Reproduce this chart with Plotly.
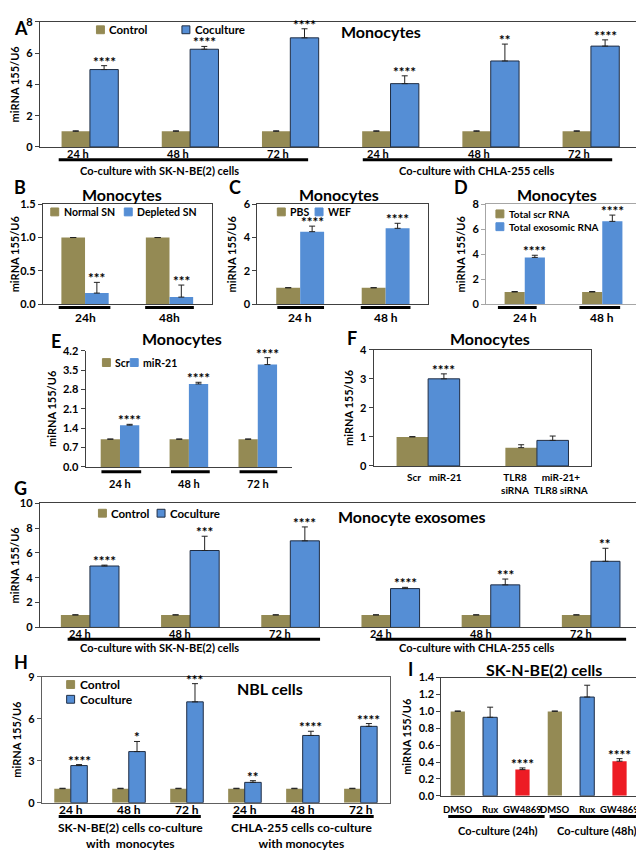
import plotly.graph_objects as go

W, H = 644, 852
OFF = 8                      # the page body adds an 8 px margin
FW, FH = W - OFF, H - OFF
OLIVE = '#948A54'
BLUE = '#558ED5'
RED = '#ED1C24'
EDGE = '#1F2D44'
NONE = 'rgba(0,0,0,0)'
FONT = 'Lato'

# A - monocytes co-cultured with NBL cells
a_x = ['SK 24 h', 'SK 48 h', 'SK 72 h', 'CHLA 24 h', 'CHLA 48 h', 'CHLA 72 h']
a_labels = ['24 h', '48 h', '72 h', '24 h', '48 h', '72 h']
a_groups = ['Co-culture with SK-N-BE(2) cells', 'Co-culture with CHLA-255 cells']
a_control = [1.0, 1.0, 1.0, 1.0, 1.0, 1.0]
a_control_err = [0.03, 0.03, 0.03, 0.03, 0.03, 0.03]
a_coculture = [4.95, 6.25, 6.98, 4.05, 5.5, 6.45]
a_coculture_err = [0.25, 0.18, 0.58, 0.5, 1.08, 0.4]
a_stars = ['****', '****', '****', '****', '**', '****']

# B - normal vs exosome depleted supernatant
b_x = ['24h', '48h']
b_normal = [1.0, 1.0]
b_normal_err = [0.0, 0.0]
b_depleted = [0.17, 0.11]
b_depleted_err = [0.16, 0.18]
b_stars = ['***', '***']

# C - PBS vs WEF
c_x = ['24 h', '48 h']
c_pbs = [1.0, 1.0]
c_pbs_err = [0.0, 0.0]
c_wef = [4.35, 4.55]
c_wef_err = [0.33, 0.3]
c_stars = ['****', '****']

# D - total scr RNA vs total exosomic RNA
d_x = ['24 h', '48 h']
d_scr = [1.0, 1.0]
d_scr_err = [0.03, 0.03]
d_exo = [3.75, 6.62]
d_exo_err = [0.17, 0.5]
d_stars = ['****', '****']

# E - Scr vs miR-21
e_x = ['24 h', '48 h', '72 h']
e_scr = [1.0, 1.0, 1.0]
e_scr_err = [0.01, 0.01, 0.01]
e_mir = [1.51, 3.0, 3.7]
e_mir_err = [0.03, 0.06, 0.25]
e_stars = ['****', '****', '****']

# F - TLR8 siRNA
f_x = ['Scr', 'TLR8 siRNA']
f_first_labels = ['Scr', 'TLR8<br>siRNA']
f_second_labels = ['miR-21', 'miR-21+<br>TLR8 siRNA']
f_first = [1.0, 0.63]
f_first_err = [0.01, 0.1]
f_second = [3.0, 0.88]
f_second_err = [0.17, 0.15]
f_stars = ['****', '']

# G - monocyte exosomes
g_control = [1.0, 1.0, 1.0, 1.0, 1.0, 1.0]
g_control_err = [0.02, 0.02, 0.02, 0.02, 0.02, 0.02]
g_coculture = [4.95, 6.2, 6.98, 3.13, 3.43, 5.33]
g_coculture_err = [0.07, 1.15, 1.12, 0.1, 0.47, 1.05]
g_stars = ['****', '***', '****', '****', '***', '**']

# H - NBL cells
h_groups = ['SK-N-BE(2) cells co-culture<br>with  monocytes', 'CHLA-255 cells co-culture<br>with monocytes']
h_control = [1.0, 1.0, 1.0, 1.0, 1.0, 1.0]
h_control_err = [0.03, 0.03, 0.03, 0.03, 0.03, 0.03]
h_coculture = [2.65, 3.65, 7.2, 1.45, 4.8, 5.45]
h_coculture_err = [0.07, 0.72, 1.3, 0.12, 0.3, 0.2]
h_stars = ['****', '*', '***', '**', '****', '****']

# I - SK-N-BE(2) cells with inhibitors
i_x = ['DMSO 24h', 'Rux 24h', 'GW4869 24h', 'DMSO 48h', 'Rux 48h', 'GW4869 48h']
i_labels = ['DMSO', 'Rux', 'GW4869', 'DMSO', 'Rux', 'GW4869']
i_groups = ['Co-culture (24h)', 'Co-culture (48h)']
i_values = [1.0, 0.93, 0.31, 1.0, 1.17, 0.41]
i_err = [0.005, 0.12, 0.02, 0.005, 0.14, 0.03]
i_stars = ['', '', '****', '', '', '****']

fig = go.Figure()
axes, shapes, notes = {}, [], []


def px(x):
    return (x - OFF) / FW


def py(y):
    return 1 - (y - OFF) / FH


def ref(n):
    return ('x', 'y') if n == 1 else (f'x{n}', f'y{n}')


def bold(size):
    return dict(family=FONT, size=size, color='black', weight='bold')


def text(x, y, s, size=11, xanchor='center', yanchor='middle', **kw):
    notes.append(dict(x=px(x), y=py(y), xref='paper', yref='paper', text=s, showarrow=False,
                      xanchor=xanchor, yanchor=yanchor, font=bold(size), **kw))


def rule(x0, x1, y, w=3):
    shapes.append(dict(type='line', xref='paper', yref='paper', x0=px(x0), x1=px(x1),
                       y0=py(y), y1=py(y), line=dict(color='black', width=w)))


def key(x, y, color, label, size=11, edge=None):
    shapes.append(dict(type='rect', xref='paper', yref='paper',
                       x0=px(x - 4), x1=px(x + 4), y0=py(y + 4), y1=py(y - 4),
                       fillcolor=color, line=dict(color=edge or color, width=1)))
    text(x + 7, y, label, size, xanchor='left')


def panel(n, box, rng, dtick, fmt='', line='#404040', frame=True):
    x0, x1, y0, y1 = box
    xr, yr = ref(n)
    sfx = '' if n == 1 else str(n)
    axes['xaxis' + sfx] = dict(domain=[px(x0), px(x1)], anchor=yr, showticklabels=False, ticks='',
                               showline=True, linecolor=line, mirror=frame, showgrid=False,
                               zeroline=False, fixedrange=True)
    axes['yaxis' + sfx] = dict(domain=[py(y1), py(y0)], anchor=xr, range=rng, dtick=dtick,
                               tickformat=fmt, ticks='outside', ticklen=4, tickcolor=line,
                               showline=True, linecolor=line, mirror=frame, showgrid=False,
                               zeroline=False, fixedrange=True, tickfont=bold(11),
                               title=dict(text='miRNA 155/U6', font=bold(11), standoff=4))


def bars(n, x, y, err, color, offset, width, edge=NONE, stars=None):
    xr, yr = ref(n)
    fig.add_trace(go.Bar(
        x=x, y=y, xaxis=xr, yaxis=yr, offset=offset, width=width,
        marker=dict(color=color, line=dict(color=edge, width=1)),
        error_y=dict(type='data', array=err, arrayminus=[0] * len(err), symmetric=False,
                     color='#222222', thickness=1, width=3),
        showlegend=False, hoverinfo='skip'))
    for i, s in enumerate(stars or []):
        if s:
            notes.append(dict(x=i + offset + width / 2, y=y[i] + err[i], xref=xr, yref=yr, text=s,
                              showarrow=False, xanchor='center', yanchor='bottom', yshift=-6,
                              font=bold(13.5)))


def xlabels(n, labels, y, shift=0.0, size=11, yanchor='middle'):
    xr, _ = ref(n)
    shifts = shift if isinstance(shift, list) else [shift] * len(labels)
    for i, s in enumerate(labels):
        notes.append(dict(x=i + shifts[i], y=py(y), xref=xr, yref='paper', text=s, showarrow=False,
                          xanchor='center', yanchor=yanchor, font=bold(size)))


# ---- A ----
w = 0.283
panel(1, (36, 641, 15, 142), [0, 8], 2)
bars(1, a_x, a_control, a_control_err, OLIVE, -w, w)
bars(1, a_x, a_coculture, a_coculture_err, BLUE, 0, w, EDGE, a_stars)
xlabels(1, a_labels, 149, -0.12)
rule(55, 306, 155)
rule(361, 612, 155)
text(156, 166, a_groups[0])
text(476, 166, a_groups[1])
key(97, 23, OLIVE, 'Control', 11.5)
key(183, 23, BLUE, 'Coculture', 11.5, EDGE)
text(379, 25, 'Monocytes', 16)
text(8, 8, 'A', 18, xanchor='left', yanchor='top')

# ---- B ----
w = 0.28
panel(2, (39, 209, 200, 302), [0, 1.5], 0.5, '.1f')
bars(2, b_x, b_normal, b_normal_err, OLIVE, -w, w)
bars(2, b_x, b_depleted, b_depleted_err, BLUE, 0, w, NONE, b_stars)
rule(55, 107, 305)
rule(142, 191, 305)
xlabels(2, b_x, 315, 0, 12)
key(51, 208, OLIVE, 'Normal SN', 10.5)
key(125, 208, BLUE, 'Depleted SN', 10.5)
text(119, 190, 'Monocytes', 16)
text(8, 183, 'B', 18, xanchor='left')

# ---- C ----
panel(3, (255, 427, 200, 302), [0, 6], 2)
bars(3, c_x, c_pbs, c_pbs_err, OLIVE, -w, w)
bars(3, c_x, c_wef, c_wef_err, BLUE, 0, w, NONE, c_stars)
rule(275, 322, 305)
rule(359, 409, 305)
xlabels(3, c_x, 315, 0, 12)
key(279, 208, OLIVE, 'PBS', 10.5)
key(317, 208, BLUE, 'WEF', 10.5)
text(337, 190, 'Monocytes', 16)
text(232, 183, 'C', 18)

# ---- D ----
w = 0.26
panel(4, (485, 641, 200, 302), [0, 8], 2, line='#A6A6A6')
bars(4, d_x, d_scr, d_scr_err, OLIVE, -w, w)
bars(4, d_x, d_exo, d_exo_err, BLUE, 0, w, NONE, d_stars)
rule(497, 536, 305)
rule(579, 620, 305)
xlabels(4, d_x, 315, 0, 12)
key(499, 210, OLIVE, 'Total scr RNA', 10)
key(499, 223, BLUE, 'Total exosomic RNA', 10)
text(556, 190, 'Monocytes', 16)
text(460, 183, 'D', 18)

# ---- E ----
w = 0.28
panel(5, (82, 290, 349, 467), [0, 4.2], 0.7, '.1f', frame=False)
bars(5, e_x, e_scr, e_scr_err, OLIVE, -w, w)
bars(5, e_x, e_mir, e_mir_err, BLUE, 0, w, NONE, e_stars)
rule(98, 138, 472)
rule(168, 207, 472)
rule(237, 275, 472)
xlabels(5, e_x, 484)
key(103, 361, OLIVE, 'Scr', 10.5)
key(131, 361, BLUE, 'miR-21', 10.5)
text(179, 337, 'Monocytes', 16)
text(52, 339, 'E', 18)

# ---- F ----
w = 0.29
panel(6, (372, 591, 348, 466), [0, 4], 1)
bars(6, f_x, f_first, f_first_err, OLIVE, -w, w)
bars(6, f_x, f_second, f_second_err, BLUE, 0, w, EDGE, f_stars)
xlabels(6, f_first_labels, 469, [-0.13, -0.2], 10, 'top')
xlabels(6, f_second_labels, 469, [0.16, 0.22], 10, 'top')
text(489, 337, 'Monocytes', 16)
text(350, 336, 'F', 18)

# ---- G ----
w = 0.29
panel(7, (36, 641, 504, 630), [0, 10], 2)
bars(7, a_x, g_control, g_control_err, OLIVE, -w, w)
bars(7, a_x, g_coculture, g_coculture_err, BLUE, 0, w, EDGE, g_stars)
xlabels(7, a_labels, 636, -0.1)
rule(64, 318, 642)
rule(374, 626, 642)
text(156, 650, a_groups[0])
text(476, 650, a_groups[1])
key(99, 514, OLIVE, 'Control', 11.5)
key(158, 514, BLUE, 'Coculture', 11.5, EDGE)
text(411, 517, 'Monocyte exosomes', 16)
text(8, 488, 'G', 18, xanchor='left')

# ---- H ----
w = 0.285
panel(8, (38, 388, 680, 808), [0, 9], 3, line='#606060')
bars(8, a_x, h_control, h_control_err, OLIVE, -w, w)
bars(8, a_x, h_coculture, h_coculture_err, BLUE, 0, w, EDGE, h_stars)
xlabels(8, a_labels, 815, 0, 12)
rule(55, 198, 822)
rule(230, 372, 822)
text(127, 824, h_groups[0], 12, yanchor='top')
text(299, 824, h_groups[1], 12, yanchor='top')
key(67, 688, OLIVE, 'Control', 12)
key(67, 703, BLUE, 'Coculture', 12, EDGE)
text(268, 692, 'NBL cells', 16)
text(8, 665, 'H', 18, xanchor='left')

# ---- I ----
w = 0.44
panel(9, (440, 641, 681, 801), [0, 1.4], 0.2, '.1f')
bars(9, i_x, i_values, i_err, [OLIVE, BLUE, RED, OLIVE, BLUE, RED], -w / 2, w,
     [NONE, EDGE, NONE, NONE, EDGE, NONE], i_stars)
xlabels(9, i_labels, 815, 0, 9.5)
rule(447, 544, 822)
rule(549, 640, 822)
text(497, 836, i_groups[0])
text(596, 836, i_groups[1])
text(543, 673, 'SK-N-BE(2) cells', 16)
text(409, 672, 'I', 18)

fig.update_layout(
    width=FW, height=FH,
    margin=dict(l=0, r=0, t=0, b=0),
    paper_bgcolor='white', plot_bgcolor='white',
    barmode='overlay', showlegend=False,
    shapes=shapes, annotations=notes,
    **axes
)

fig.write_html("out.html")
